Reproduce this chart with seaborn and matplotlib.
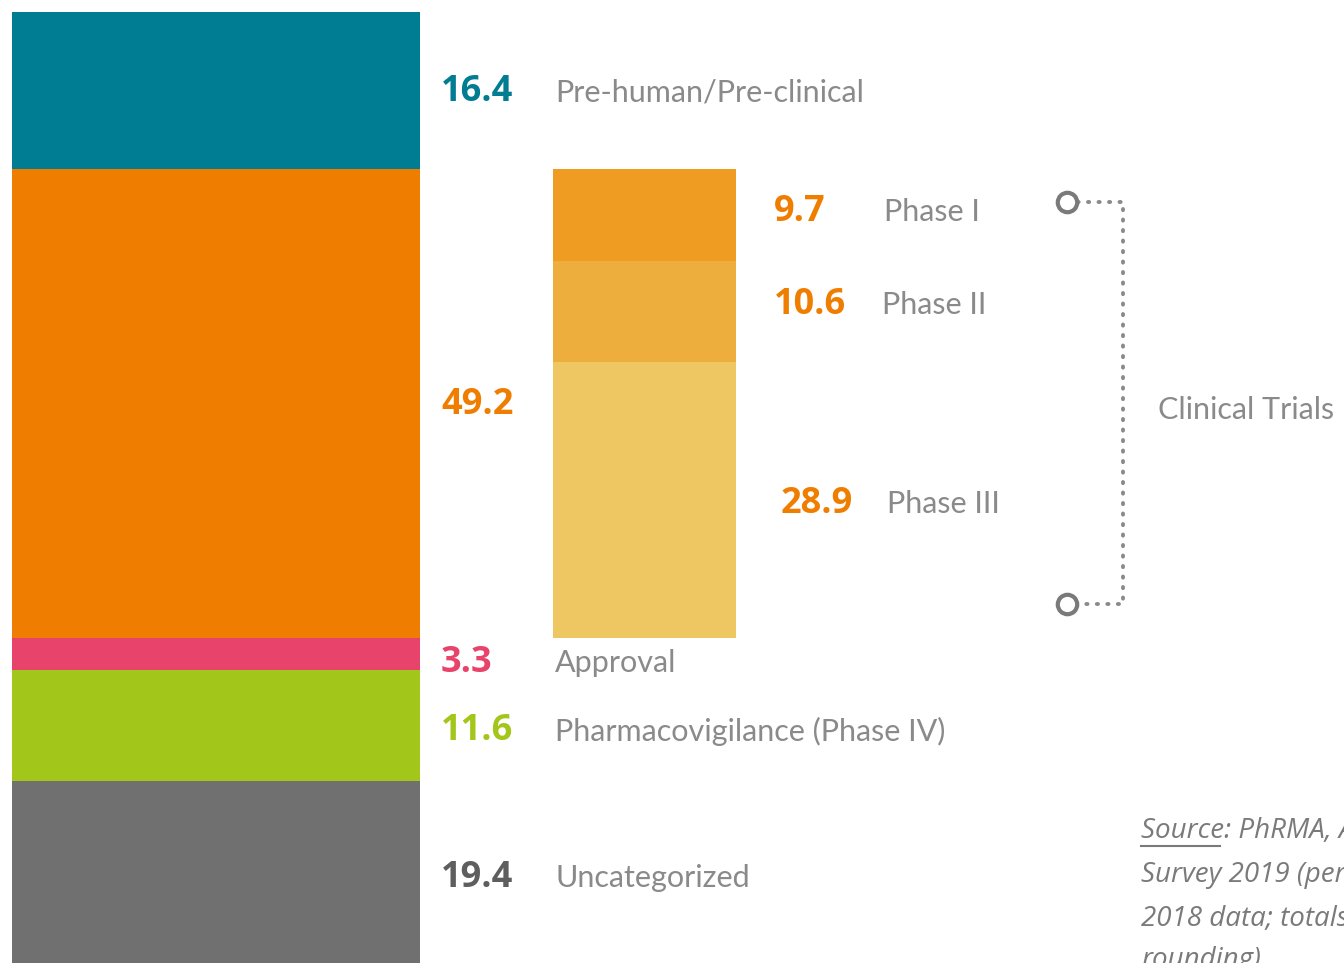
import matplotlib
matplotlib.use("Agg")
import matplotlib.pyplot as plt
import seaborn as sns

# stage shares of R&D spend (percent)
stages = ["Pre-human/Pre-clinical", "Clinical", "Approval",
          "Pharmacovigilance (Phase IV)", "Uncategorized"]
stage_values = [16.4, 49.2, 3.3, 11.6, 19.4]
stage_colors = ["#007D93", "#EF7D00", "#E8436A", "#A3C61A", "#707070"]
num_colors = ["#007D93", "#EF7D00", "#E8436A", "#A3C61A", "#5E5E5E"]

phases = ["Phase I", "Phase II", "Phase III"]
phase_values = [9.7, 10.6, 28.9]
phase_colors = ["#EE9C22", "#EEAE3E", "#EEC763"]

W, H = 1344, 963
PX = 9.55      # pixels per percent
TOP = 12       # pixel offset of the stack top

LABEL_GRAY = "#8A8A8A"
FONT = ["Lato", "DejaVu Sans"]
NUM_FONT = ["Open Sans", "DejaVu Sans"]

fig = plt.figure(figsize=(W / 100, H / 100), dpi=100)
ax = fig.add_axes([0, 0, 1, 1])
ax.set_xlim(0, W)
ylim = ((H - TOP) / PX, -TOP / PX)

# left stacked bar
axL = fig.add_axes([12 / W, 0, 408 / W, 1], sharey=ax)
bottom = 0
for name, val, col in zip(stages, stage_values, stage_colors):
    sns.barplot(x=["total"], y=[val], bottom=bottom, color=col, width=1,
                saturation=1, linewidth=0, ax=axL)
    bottom += val
axL.set_xlim(-0.5, 0.5)
axL.axis("off")

# clinical phases bar
axR = fig.add_axes([553 / W, 0, 183 / W, 1], sharey=ax)
bottom = stage_values[0]
for name, val, col in zip(phases, phase_values, phase_colors):
    sns.barplot(x=["clinical"], y=[val], bottom=bottom, color=col, width=1,
                saturation=1, linewidth=0, ax=axR)
    bottom += val
axR.set_xlim(-0.5, 0.5)
axR.axis("off")

ax.set_ylim(*ylim)
ax.axis("off")

# stage labels
label_dy = [0.2, 0.2, 0.9, 0.6, 0.5]
bottom = 0
for name, val, ncol, dy in zip(stages, stage_values, num_colors, label_dy):
    yc = bottom + val / 2 + dy
    ax.text(441, yc, f"{val}", color=ncol, fontsize=26, fontweight="bold",
            family=NUM_FONT, va="center", ha="left")
    if name != "Clinical":
        ax.text(555, yc, name, color=LABEL_GRAY, fontsize=22,
                family=FONT, va="center", ha="left")
    bottom += val

# phase labels
phase_num_x = [774, 774, 781]
phase_lab_x = [884, 882, 887]
phase_dy = [-0.3, -0.7, 0.4]
bottom = stage_values[0]
for name, val, nx, lx, dy in zip(phases, phase_values, phase_num_x, phase_lab_x, phase_dy):
    yc = bottom + val / 2 + dy
    ax.text(nx, yc, f"{val}", color="#EF7D00", fontsize=26, fontweight="bold",
            family=NUM_FONT, va="center", ha="left")
    ax.text(lx, yc, name, color=LABEL_GRAY, fontsize=22,
            family=FONT, va="center", ha="left")
    bottom += val

# bracket for clinical trials
y_top, y_bot = 19.9, 62.0
ax.plot([1067, 1123, 1123, 1067], [y_top, y_top, y_bot, y_bot],
        color="#8A8A8A", lw=2.8, ls=(0, (0.3, 2.4)), dash_capstyle="round")
ax.plot([1067, 1067], [y_top, y_bot], ls="none", marker="o", ms=14,
        mfc="white", mec="#7A7A7A", mew=3)
ax.text(1158, 41.7, "Clinical Trials", color=LABEL_GRAY, fontsize=22,
        family=FONT, va="center", ha="left")

# source note (runs off the right edge, as in the original)
src_lines = ["Source: PhRMA, Annual Membership",
             "Survey 2019 (percentages based on",
             "2018 data; totals may not add due to",
             "rounding)"]
src_y = [831, 875, 919, 960]
for line, py in zip(src_lines, src_y):
    ax.text(1141, (py - TOP) / PX, line, color="#7A7A7A", fontsize=20,
            style="italic", family=["Open Sans", "DejaVu Sans"],
            va="center", ha="left", clip_on=False)

# underline "Source"
fig.canvas.draw()
r = fig.canvas.get_renderer()
tmp = ax.text(1141, (831 - TOP) / PX, "Source", fontsize=20, style="italic",
              family=["Open Sans", "DejaVu Sans"], va="center", ha="left", alpha=0)
bb = tmp.get_window_extent(renderer=r)
ax.plot([1141, 1141 + bb.width - 4], [(846 - TOP) / PX] * 2,
        color="#7A7A7A", lw=1.5)

fig.savefig("out.png", dpi=100)
